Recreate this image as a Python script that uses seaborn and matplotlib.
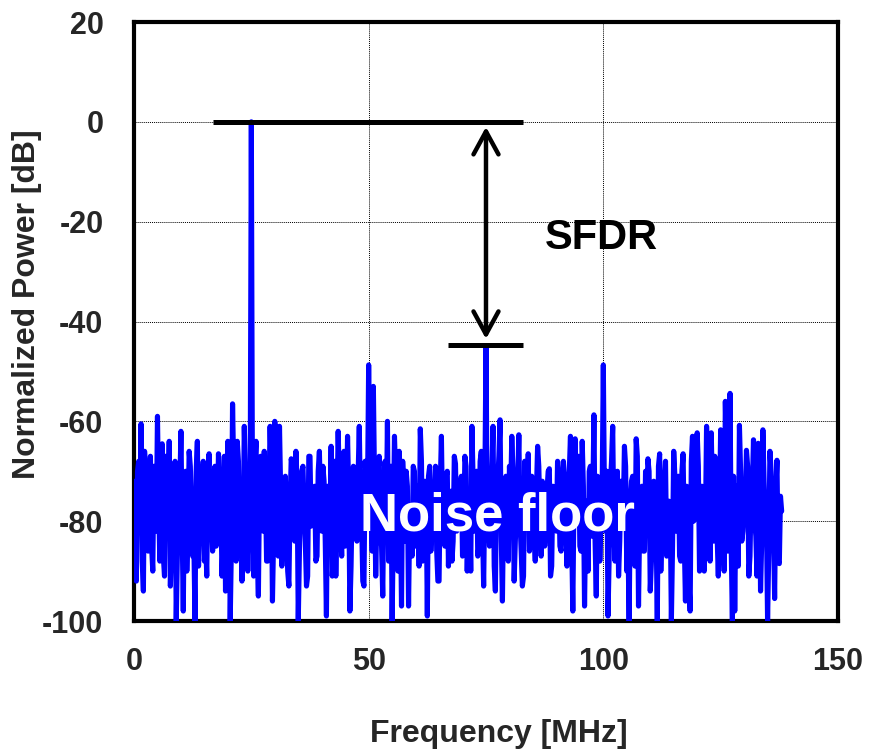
import numpy as np
import pandas as pd
import matplotlib
matplotlib.use("Agg")
import matplotlib.pyplot as plt
import seaborn as sns

# ---- data ----
freq_step_mhz = 0.5
# power at bins 0, 0.5, 1.0 ... MHz
power_db = [
    -72, -92, -68, -60.5, -94, -70, -86, -67, -90, -74,
    -59, -88, -64.5, -91, -73, -64, -84, -70, -100, -75,
    -62, -98, -70, -82, -69, -87, -100, -64, -80, -72,
    -88, -91, -66.5, -79, -71, -85, -66.5, -76, -83, -94,
    -64, -100, -56.5, -78, -64, -86, -92, -61, -80, -72,
    0, -91, -64, -95, -67, -82, -73, -88, -61, -96,
    -60, -85, -61, -89, -74, -81, -93, -67.5, -78, -66,
    -100, -76, -69, -84, -91, -67, -80, -73, -87, -66,
    -82, -72, -99, -74, -65, -86, -91, -62, -80, -71,
    -85, -63, -98, -75, -70, -84, -61, -80, -93, -72,
    -48.7, -78, -53, -91, -70, -83, -95, -68, -60, -82,
    -100, -63, -79, -66, -97, -74, -70, -97, -77, -69,
    -85, -73, -61.5, -88, -72, -99, -69, -80, -75, -86,
    -92, -63, -79, -71, -89, -74, -84, -68.5, -81, -73,
    -87, -67, -90, -76, -61, -82, -70, -85, -66, -93,
    -45, -80, -74, -61, -94, -72, -59.7, -96, -75, -83,
    -69, -63, -92, -78, -62.7, -86, -91, -73, -66.5, -84,
    -77, -88, -65, -79, -72, -85, -74, -69.5, -89, -76,
    -82, -71, -86, -68, -80, -74, -63, -98, -63.5, -79,
    -85, -64, -97, -76, -70, -83, -58.7, -95, -72, -80,
    -48.7, -82, -99, -73, -61, -88, -70, -84, -76, -65,
    -90, -100, -72, -81, -63.5, -97, -75, -86, -70, -67.5,
    -94, -77, -83, -100, -66.5, -80, -72, -87, -76, -100,
    -66, -82, -71, -88, -66.5, -96, -74, -98, -63, -78,
    -62.3, -90, -73, -90, -61, -79, -62.3, -84, -75, -91,
    -61.7, -80, -56, -86, -54.4, -100, -98, -73, -60.8, -84,
    -77, -65.8, -91, -74, -63.7, -83, -64.4, -94, -61.7, -80,
    -100, -66, -82, -95.5, -67.8, -88.5, -78,
]
# power at the in-between bins 0.25, 0.75, 1.25 ... MHz
power_mid_db = [
    -84, -70, -78, -88, -66, -80, -73, -85, -69, -82,
    -76, -71, -87, -67, -79, -93, -72, -68, -86, -74,
    -81, -73, -90, -66, -77, -84, -70, -89, -75, -68,
    -83, -71, -78, -86, -69, -80, -74, -91, -67, -79,
    -72, -85, -70, -88, -68, -77, -84, -71, -90, -76,
    -79, -69, -86, -73, -81, -66, -88, -75, -70, -83,
    -68, -87, -74, -79, -71, -90, -77, -69, -84, -72,
    -86, -70, -78, -93, -67, -81, -75, -88, -70, -77,
    -69, -84, -73, -80, -91, -68, -78, -72, -87, -66,
    -80, -74, -89, -69, -83, -71, -77, -92, -68, -75,
    -70, -86, -72, -79, -67, -85, -74, -81, -88, -69,
    -82, -71, -90, -76, -68, -84, -73, -79, -87, -70,
    -77, -89, -68, -83, -74, -71, -86, -78, -69, -92,
    -73, -80, -85, -70, -78, -88, -67, -82, -75, -71,
    -84, -69, -79, -90, -72, -76, -87, -68, -81, -74,
    -78, -85, -70, -89, -73, -67, -83, -77, -71, -88,
    -75, -70, -84, -72, -80, -93, -68, -79, -86, -71,
    -82, -74, -69, -87, -76, -81, -70, -91, -73, -78,
    -68, -85, -77, -72, -89, -70, -83, -75, -80, -67,
    -86, -73, -79, -90, -69, -76, -84, -71, -88, -74,
    -77, -70, -87, -68, -82, -75, -91, -72, -79, -69,
    -84, -76, -71, -89, -67, -80, -73, -86, -78, -70,
    -88, -72, -81, -69, -90, -75, -68, -83, -77, -85,
    -71, -79, -87, -70, -84, -73, -92, -68, -80, -76,
    -69, -86, -74, -81, -70, -88, -75, -67, -83, -78,
    -72, -90, -68, -79, -85, -71, -77, -89, -70, -82,
    -76, -69, -87, -73, -80, -91, -68, -84, -72, -79,
    -86, -70, -81, -74, -88, -75,
]

x_ticks = [0, 50, 100, 150]
y_ticks = [-100, -80, -60, -40, -20, 0, 20]

carrier_db = 0
spur_db = -44.7
carrier_bar = [16.8, 82.9]
spur_bar = [66.9, 82.9]
arrow_x = 75

freq_main = np.arange(len(power_db)) * freq_step_mhz
freq_mid = freq_step_mhz / 2 + np.arange(len(power_mid_db)) * freq_step_mhz
df = pd.DataFrame({
    "Frequency [MHz]": np.concatenate([freq_main, freq_mid]),
    "Normalized Power [dB]": np.concatenate([power_db, power_mid_db]),
}).sort_values("Frequency [MHz]").reset_index(drop=True)

# ---- style ----
sns.set_style("white")
plt.rcParams["font.family"] = ["Liberation Sans", "DejaVu Sans"]
plt.rcParams["font.weight"] = "bold"

fig = plt.figure(figsize=(8.69, 7.51), dpi=100)
ax = fig.add_axes([0.1542, 0.1731, 0.8101, 0.7976])

sns.lineplot(data=df, x="Frequency [MHz]", y="Normalized Power [dB]",
             estimator=None, sort=False, color="#0000FF", linewidth=3.7,
             ax=ax, zorder=3)

# annotation bars and arrow
ax.plot(carrier_bar, [carrier_db, carrier_db], color="black", lw=3.6,
        solid_capstyle="butt", zorder=4)
ax.plot(spur_bar, [spur_db, spur_db], color="black", lw=3.6,
        solid_capstyle="butt", zorder=4)
ax.annotate("", xy=(arrow_x, carrier_db - 1.0), xytext=(arrow_x, spur_db + 1.2),
            arrowprops=dict(arrowstyle="<->,head_length=0.55,head_width=0.3",
                            lw=3.2, color="black", mutation_scale=30,
                            shrinkA=0, shrinkB=0),
            zorder=5)

ax.text(99.5, -23.2, "SFDR", fontsize=30, fontweight="bold", color="black",
        ha="center", va="center", zorder=6)
ax.text(77.4, -79, "Noise floor", fontsize=38, fontweight="bold", color="white",
        ha="center", va="center", zorder=6)

ax.set_xlim(0, 150)
ax.set_ylim(-100, 20)
ax.set_xticks(x_ticks)
ax.set_yticks(y_ticks)
ax.set_xticklabels([str(t) for t in x_ticks], fontsize=22, fontweight="bold")
ax.set_yticklabels([str(t) for t in y_ticks], fontsize=22, fontweight="bold")
ax.tick_params(axis="x", length=0, pad=19)
ax.tick_params(axis="y", length=0, pad=22)

ax.grid(True, color="black", linestyle=(0, (1, 1)), linewidth=0.7, zorder=0)
ax.set_axisbelow(True)

for s in ax.spines.values():
    s.set_visible(True)
    s.set_color("black")
    s.set_linewidth(3.0)

ax.set_xlabel("Frequency [MHz]", fontsize=23, fontweight="bold")
ax.set_ylabel("Normalized Power [dB]", fontsize=23, fontweight="bold")
ax.xaxis.set_label_coords(0.518, -0.163)
ax.yaxis.set_label_coords(-0.131, 0.529)

fig.savefig("out.png", dpi=100)
